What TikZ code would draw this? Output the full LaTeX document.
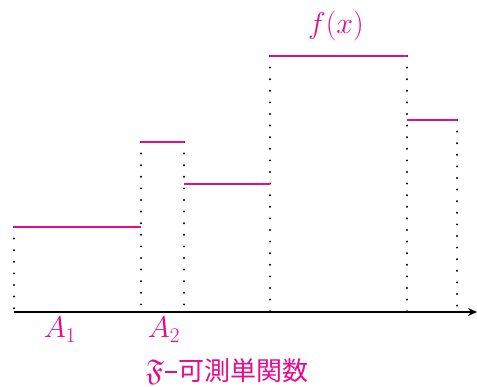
\RequirePackage{fix-cm}
\documentclass[tikz,border=0pt]{standalone}
\usepackage{amssymb}
\usepackage{fontspec}
\newfontfamily\cjk{Noto Sans CJK JP}
\usetikzlibrary{arrows.meta}
\definecolor{mag}{RGB}{230,10,140}
\tikzset{
  stepline/.style={draw=mag,line width=1.6pt},
  guide/.style={draw=black,line width=2.2pt,dash pattern=on 0pt off 11.6pt,line cap=round},
  axisline/.style={draw=black,line width=1.6pt,-{Stealth[length=9pt,width=8pt]}},
  lbl/.style={text=mag,font=\fontsize{30}{34}\selectfont,inner sep=0pt}
}
\begin{document}
\begin{tikzpicture}[x=1pt,y=-1pt]
\useasboundingbox (0,0) rectangle (477,387);
% coordinates
\coordinate (o) at (14,312);
\coordinate (e) at (477,312);
\coordinate (b0) at (14,312);   \coordinate (t0) at (14,227);
\coordinate (b1) at (141,312);  \coordinate (t1) at (141,142);
\coordinate (b2) at (184,312);  \coordinate (t2) at (184,142);
\coordinate (b3) at (270,312);  \coordinate (t3) at (270,56);
\coordinate (b4) at (407,312);  \coordinate (t4) at (407,56);
\coordinate (b5) at (457,312);  \coordinate (t5) at (457,120);
% guides
\foreach \i in {0,...,5} \draw[guide] (t\i) -- (b\i);
% steps
\draw[stepline] (14,227) -- (141,227);
\draw[stepline] (141,142) -- (184,142);
\draw[stepline] (184,184) -- (270,184);
\draw[stepline] (270,56) -- (407,56);
\draw[stepline] (407,120) -- (457,120);
% axis
\draw[axisline] (o) -- (e);
% labels
\node[lbl] (fx) at (336,26) {$f(x)$};
\node[lbl] (a1) at (60,330) {$A_1$};
\node[lbl] (a2) at (164,330) {$A_2$};
\node[lbl,font=\fontsize{26}{30}\selectfont] (cap) at (227,371) {{\fontsize{30}{32}\selectfont$\mathfrak{F}$}\kern1pt\rule[7.5pt]{12pt}{1.3pt}\kern1pt{\cjk 可測単関数}};
\end{tikzpicture}
\end{document}
